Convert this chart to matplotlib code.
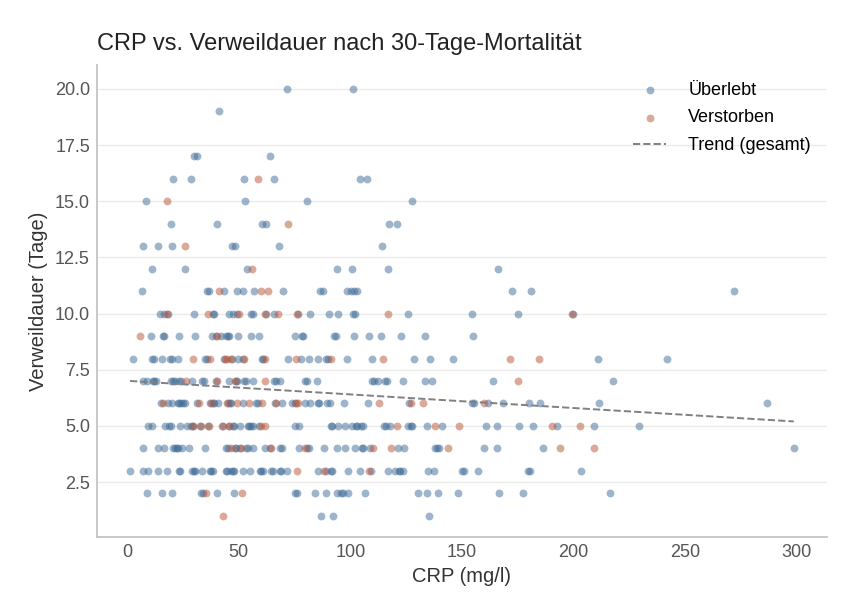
import numpy as np
import matplotlib.pyplot as plt

plt.rcParams['font.family'] = ['Liberation Sans', 'DejaVu Sans']

# Verweildauer in Tagen (Zeilen der Datenlisten)
tage_stufen = [20, 19, 18, 17, 16, 15, 14, 13, 12, 11, 10, 9, 8, 7, 6, 5, 4, 3, 2, 1]

# CRP (mg/l) je Verweildauer, Überlebende
crp_ueberlebt = [
    [71.8, 101.3],
    [41.3],
    [],
    [30.1, 31.2, 64.0],
    [20.7, 28.7, 52.5, 66.0, 104.3, 107.6],
    [8.4, 52.8, 80.5, 127.8],
    [19.6, 40.4, 60.6, 62.2, 117.3, 121.0],
    [7.3, 14.0, 20.0, 47.0, 48.1, 68.2, 114.3],
    [11.1, 26.0, 53.6, 93.9, 100.9, 117.0, 166.3],
    [6.6, 35.6, 36.7, 43.6, 49.4, 52.1, 56.9, 70.0, 86.6, 87.8, 98.4, 100.5,
     101.7, 102.9, 172.3, 180.8, 271.7],
    [14.8, 16.3, 18.2, 30.1, 38.3, 39.0, 45.4, 47.2, 49.1, 55.5, 56.6, 62.1,
     66.0, 76.7, 81.9, 90.3, 94.5, 101.2, 102.1, 126.0, 154.6, 175.2, 199.9],
    [10.7, 15.9, 16.6, 23.4, 30.5, 37.9, 39.9, 42.0, 44.3, 45.0, 45.7, 49.8,
     55.5, 59.2, 75.2, 78.4, 79.0, 92.7, 93.6, 101.7, 108.5, 113.6, 122.6,
     133.4, 155.1],
    [2.4, 11.1, 12.2, 15.5, 19.3, 19.9, 22.7, 35.0, 35.7, 43.6, 47.0, 49.8,
     51.7, 60.2, 60.9, 72.0, 77.9, 81.6, 85.7, 89.3, 90.0, 98.7, 109.6, 128.7,
     135.7, 145.8, 210.9, 241.7],
    [7.3, 8.8, 11.4, 12.1, 12.8, 19.7, 20.4, 21.5, 23.4, 24.0, 29.0, 33.6,
     34.3, 39.9, 45.4, 48.6, 49.1, 52.5, 53.2, 56.6, 66.0, 66.6, 68.5, 79.8,
     80.5, 84.9, 109.9, 110.6, 112.5, 115.7, 116.3, 123.7, 133.4, 136.4,
     164.0, 217.8],
    [15.2, 18.5, 20.0, 22.6, 23.3, 24.2, 24.9, 26.0, 31.3, 36.9, 38.3, 39.0,
     40.9, 45.2, 45.9, 46.5, 52.1, 57.8, 58.4, 66.3, 69.3, 73.8, 75.0, 79.7,
     81.9, 85.3, 86.0, 89.4, 90.9, 97.2, 108.1, 126.5, 154.5, 155.2, 161.7,
     168.5, 180.0, 184.9, 211.4, 286.7],
    [9.5, 11.1, 17.0, 18.9, 19.6, 23.7, 27.0, 28.7, 29.3, 32.7, 36.4, 42.4,
     45.4, 47.2, 47.9, 50.6, 54.0, 54.6, 55.5, 56.2, 59.1, 75.2, 77.2, 91.4,
     92.0, 94.6, 97.6, 100.6, 102.5, 103.2, 104.8, 105.5, 115.3, 116.0, 117.8,
     126.0, 127.2, 127.8, 134.2, 141.2, 160.8, 165.6, 175.5, 181.9, 192.4,
     209.3, 229.4],
    [7.0, 14.0, 16.3, 20.7, 21.4, 22.2, 22.8, 24.5, 27.5, 34.9, 44.3, 45.0,
     48.1, 48.8, 50.4, 53.3, 54.0, 56.6, 61.8, 63.8, 68.6, 69.3, 77.2, 80.8,
     81.5, 88.4, 93.9, 97.6, 102.1, 105.0, 105.7, 108.8, 121.2, 124.2, 137.9,
     139.0, 139.7, 159.9, 165.8, 186.4, 298.7],
    [1.3, 7.0, 9.5, 14.0, 17.8, 23.1, 23.7, 29.1, 29.8, 30.5, 33.5, 36.9,
     37.6, 38.6, 44.1, 44.8, 46.6, 47.2, 47.9, 52.1, 55.1, 59.3, 60.0, 61.0,
     64.5, 65.2, 68.3, 69.0, 71.5, 85.7, 89.0, 91.4, 92.0, 99.1, 104.3, 109.1,
     116.7, 120.0, 121.6, 122.2, 123.5, 134.9, 137.6, 150.2, 150.9, 157.0,
     179.7, 180.3, 203.3],
    [8.8, 15.5, 20.0, 33.1, 33.8, 40.2, 47.9, 75.0, 75.9, 84.2, 89.1, 93.9,
     95.8, 96.5, 99.1, 106.6, 130.4, 134.5, 139.4, 148.1, 166.4, 177.2, 216.3],
    [86.7, 92.4, 135.4],
]

# CRP (mg/l) je Verweildauer, Verstorbene
crp_verstorben = [
    [],
    [],
    [],
    [],
    [58.5],
    [17.8],
    [72.2],
    [26.0],
    [55.8],
    [41.2, 59.9, 63.1],
    [17.7, 36.1, 50.3, 61.8, 67.5, 76.3, 116.7, 199.5],
    [5.8, 40.1],
    [29.7, 36.9, 43.9, 44.6, 46.6, 52.4, 61.8, 75.5, 91.2, 114.8, 171.5, 184.6],
    [26.4, 40.3, 48.1, 61.8, 175.0],
    [15.9, 32.0, 37.6, 44.8, 49.3, 54.8, 60.3, 66.9, 75.5, 76.7, 113.0, 127.2,
     132.7, 159.9],
    [29.7, 33.0, 36.7, 42.8, 45.7, 59.8, 61.8, 121.0, 137.9, 148.8, 190.5,
     202.7],
    [46.4, 50.8, 64.3, 79.7, 110.3, 118.1, 143.9, 194.0, 209.0],
    [76.3, 88.4, 108.5],
    [35.2, 51.6],
    [42.9],
]

# Trendlinie (gesamt), Endpunkte
trend_crp = [1.3, 298.7]
trend_tage = [7.0, 5.2]


def flatten(rows):
    x = [v for row in rows for v in row]
    y = [t for t, row in zip(tage_stufen, rows) for _ in row]
    return np.array(x), np.array(y)


x_ue, y_ue = flatten(crp_ueberlebt)
x_vs, y_vs = flatten(crp_verstorben)

fig, ax = plt.subplots(figsize=(8.57, 6.16), dpi=100)
fig.subplots_adjust(left=0.113, right=0.965, top=0.894, bottom=0.128)

ax.scatter(x_ue, y_ue, s=32, color='#3f6b96', alpha=0.5, linewidths=0,
           label='Überlebt', zorder=3)
ax.scatter(x_vs, y_vs, s=32, color='#b95537', alpha=0.5, linewidths=0,
           label='Verstorben', zorder=3)
ax.plot(trend_crp, trend_tage, '--', color='#808080', lw=1.4,
        label='Trend (gesamt)', zorder=4)

ax.set_xticks([0, 50, 100, 150, 200, 250, 300])
ax.set_yticks([2.5, 5.0, 7.5, 10.0, 12.5, 15.0, 17.5, 20.0])
ax.set_xlim(-13.6, 313.6)
ax.set_ylim(0.05, 21.05)

ax.grid(axis='y', color='#ebebeb', lw=1)
ax.set_axisbelow(True)
for side in ['top', 'right']:
    ax.spines[side].set_visible(False)
for side in ['left', 'bottom']:
    ax.spines[side].set_color('#c4c4c4')
    ax.spines[side].set_linewidth(1.3)
ax.tick_params(length=0, labelsize=13, labelcolor='#555555', pad=5)

ax.set_xlabel('CRP (mg/l)', fontsize=14.5, color='#333333', labelpad=4)
ax.set_ylabel('Verweildauer (Tage)', fontsize=14.5, color='#333333', labelpad=5)
ax.set_title('CRP vs. Verweildauer nach 30-Tage-Mortalität', loc='left',
             fontsize=17, color='#222222', pad=11)

ax.legend(loc='upper right', frameon=False, fontsize=13, markerscale=1.0,
          handlelength=1.85, handletextpad=1.2, labelspacing=0.6,
          borderaxespad=0.5)

plt.savefig('out.png', dpi=100)
